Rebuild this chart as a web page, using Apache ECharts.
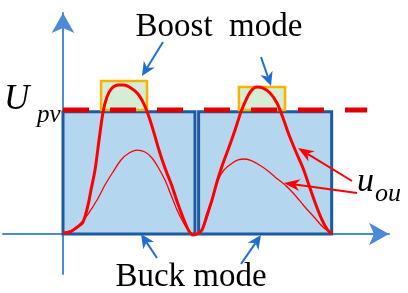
<!DOCTYPE html>
<html><head><meta charset="utf-8">
<script src="https://cdn.jsdelivr.net/npm/echarts@6/dist/echarts.min.js"></script>
<style>html,body{margin:0;padding:0;background:#fff}#c{width:408px;height:293px}</style>
</head><body><div id="c"></div>
<script>
// time normalised to one half-period = 1, voltage normalised to Upv = 1
const upv = 1;
const buckBoxX = [[0, 0.985], [1.012, 2.005]];
const buckBoxTop = [0.985, 0.985];
const boostBoxX = [[0.284, 0.627], [1.313, 1.657]];
const boostBoxTop = [1.234, 1.185];
const dashEnd = 2.27;

const thick1X = [0,0.052,0.097,0.149,0.187,0.209,0.239,0.269,0.299,0.328,0.366,0.410,0.455,0.507,0.560,0.604,0.642,0.679,0.716,0.761,0.813,0.858,0.903,0.940,0.970,1.000];
const thick1Y = [0.008,0.016,0.048,0.097,0.234,0.355,0.516,0.758,0.984,1.105,1.177,1.202,1.202,1.177,1.129,1.048,0.944,0.815,0.677,0.532,0.387,0.242,0.113,0.024,-0.008,0.000];
const thick2X = [1.000,1.037,1.075,1.112,1.149,1.187,1.231,1.284,1.328,1.366,1.403,1.448,1.493,1.545,1.597,1.642,1.687,1.739,1.791,1.843,1.888,1.933,1.970,2.007];
const thick2Y = [0,0.032,0.153,0.274,0.419,0.548,0.677,0.839,0.984,1.081,1.153,1.185,1.177,1.137,1.056,0.935,0.798,0.661,0.532,0.371,0.234,0.113,0.040,0];
const thin1X = [0,0.067,0.127,0.187,0.254,0.313,0.373,0.433,0.493,0.552,0.612,0.664,0.709,0.761,0.806,0.851,0.896,0.940,0.985];
const thin1Y = [0.008,0.032,0.081,0.161,0.274,0.395,0.500,0.597,0.653,0.677,0.661,0.613,0.540,0.435,0.315,0.194,0.097,0.024,-0.008];
const thin2X = [1.007,1.045,1.082,1.119,1.157,1.201,1.254,1.306,1.358,1.410,1.478,1.530,1.582,1.649,1.724,1.799,1.873,1.940,2.000];
const thin2Y = [0,0.048,0.153,0.306,0.435,0.516,0.565,0.597,0.605,0.589,0.548,0.508,0.460,0.403,0.323,0.226,0.137,0.056,0.008];

const zip = (xs, ys) => xs.map((x, i) => [x, ys[i]]);

const chart = echarts.init(document.getElementById('c'), null, {renderer: 'canvas'});
const BLUE = '#1e6fd0';
const RED = '#ff0000';

function arrow(x1, y1, x2, y2, color, w, hl, hw) {
  const dx = x2 - x1, dy = y2 - y1, L = Math.hypot(dx, dy);
  const ux = dx / L, uy = dy / L, px = -uy, py = ux;
  const bx = x2 - ux * hl, by = y2 - uy * hl;
  const nx = x2 - ux * hl * 0.7, ny = y2 - uy * hl * 0.7;
  return [
    {type: 'line', shape: {x1, y1, x2: nx, y2: ny}, style: {stroke: color, lineWidth: w}, z: 100},
    {type: 'polygon', shape: {points: [[x2, y2], [bx + px * hw / 2, by + py * hw / 2], [nx, ny], [bx - px * hw / 2, by - py * hw / 2]]},
     style: {fill: color}, z: 100}
  ];
}

const texts = [
  {type: 'text', style: {text: 'Boost  mode', x: 219, y: 27, align: 'center', verticalAlign: 'middle', font: '33px "Liberation Serif"', fill: '#000'}, z: 100},
  {type: 'text', style: {text: 'Buck mode', x: 191, y: 277, align: 'center', verticalAlign: 'middle', font: '33px "Liberation Serif"', fill: '#000'}, z: 100},
  {type: 'text', style: {text: 'U', x: 4, y: 100, align: 'left', verticalAlign: 'middle', font: 'italic 35px "Liberation Serif"', fill: '#000'}, z: 100},
  {type: 'text', style: {text: 'pv', x: 37, y: 115, align: 'left', verticalAlign: 'middle', font: 'italic 25px "Liberation Serif"', fill: '#000'}, z: 100},
  {type: 'text', style: {text: 'u', x: 357, y: 182, align: 'left', verticalAlign: 'middle', font: 'italic 34px "Liberation Serif"', fill: '#000'}, z: 100},
  {type: 'text', style: {text: 'ou', x: 375, y: 194, align: 'left', verticalAlign: 'middle', font: 'italic 26px "Liberation Serif"', fill: '#000'}, z: 100}
];
const arrows = [].concat(
  arrow(163, 42, 142, 76, BLUE, 2, 14, 13),
  arrow(261, 57, 271, 86, BLUE, 2, 14, 13),
  arrow(157, 258, 141, 234, BLUE, 2, 14, 13),
  arrow(241, 264, 261, 235, BLUE, 2, 14, 13),
  arrow(352, 181, 298, 148, RED, 2, 16, 12),
  arrow(357, 193, 284, 183, RED, 2, 16, 12)
);

const x0 = 63, y0 = 234, sx = 134, sy = 124;
const gridL = 3, gridR = 19, gridT = 13, gridB = 19;
const xMin = -(x0 - gridL) / sx, xMax = (408 - gridR - x0) / sx;
const yMax = (y0 - gridT) / sy, yMin = -(293 - gridB - y0) / sy;

const axisCommon = {
  type: 'value', axisTick: {show: false}, axisLabel: {show: false}, splitLine: {show: false},
  axisLine: {show: true, onZero: true, symbol: ['none', 'arrow'], symbolSize: [17, 20],
    lineStyle: {color: '#4a8ad8', width: 2}}
};

chart.setOption({
  animation: false,
  grid: {left: gridL, right: gridR, top: gridT, bottom: gridB, containLabel: false, outerBoundsMode: 'none'},
  xAxis: Object.assign({}, axisCommon, {min: xMin, max: xMax}),
  yAxis: Object.assign({}, axisCommon, {min: yMin, max: yMax}),
  graphic: texts.concat(arrows),
  series: [
    {type: 'line', data: [], z: 1, silent: true,
     markArea: {silent: true, itemStyle: {color: '#b5d6ef', borderColor: '#1e5aa0', borderWidth: 3},
       data: buckBoxX.map((r, i) => [{xAxis: r[0], yAxis: 0}, {xAxis: r[1], yAxis: buckBoxTop[i]}])}},
    {type: 'line', data: [], z: 2, silent: true,
     markArea: {silent: true, itemStyle: {color: '#d6ecd4', borderColor: '#f6b400', borderWidth: 2.5},
       data: boostBoxX.map((r, i) => [{xAxis: r[0], yAxis: upv}, {xAxis: r[1], yAxis: boostBoxTop[i]}])}},
    {type: 'line', z: 3, symbol: 'none', data: [[0, upv], [dashEnd, upv]],
     lineStyle: {color: '#e00000', width: 5, type: [26, 21]}},
    {type: 'line', z: 4, symbol: 'none', smooth: 0.3, data: zip(thin1X, thin1Y), lineStyle: {color: RED, width: 1.3}},
    {type: 'line', z: 4, symbol: 'none', smooth: 0.3, data: zip(thin2X, thin2Y), lineStyle: {color: RED, width: 1.3}},
    {type: 'line', z: 5, symbol: 'none', smooth: 0.3, data: zip(thick1X, thick1Y), lineStyle: {color: RED, width: 3}},
    {type: 'line', z: 5, symbol: 'none', smooth: 0.3, data: zip(thick2X, thick2Y), lineStyle: {color: RED, width: 3}}
  ]
});
</script></body></html>
